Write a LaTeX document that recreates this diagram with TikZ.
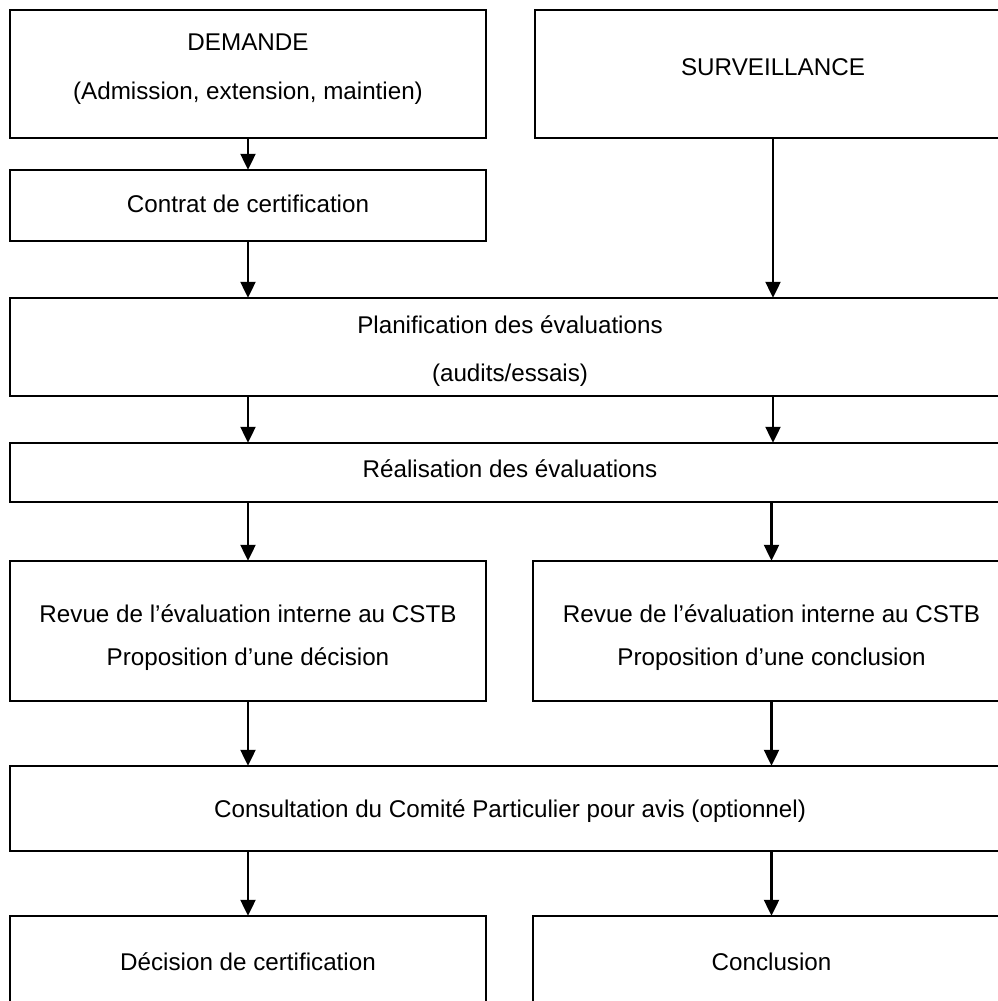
\documentclass[tikz,border=0pt]{standalone}
\usepackage{fontspec}
\setmainfont{Liberation Sans}
\usetikzlibrary{arrows.meta}
\begin{document}
\begin{tikzpicture}[x=1pt,y=-1pt,
  thickbox/.style={draw=black,line width=2pt,fill=none},
  thinbox/.style={draw=black,line width=1.3pt,fill=none},
  txt/.style={anchor=base,inner sep=0pt,font=\fontsize{24.2}{28}\selectfont},
  flow/.style={line width=2.2pt,-{Triangle[width=15pt,length=16pt]}}]
\useasboundingbox (0,0) rectangle (998,1001);
\clip (0,0) rectangle (998,1001);
\fill[white] (0,0) rectangle (998,1001);
% boxes
\draw[thickbox] (10,10) rectangle (486,138);
\node[inner sep=0pt,minimum width=476pt,minimum height=128pt] (dem) at (248,74) {};
\node[inner sep=0pt,minimum width=476pt,minimum height=128pt] (surv) at (773,74) {};
\draw[thickbox] (535,10) rectangle (1011,138);
\node[inner sep=0pt,minimum width=476pt,minimum height=71pt] (contrat) at (248,205.5) {};
\draw[thinbox] (10,170) rectangle (486,241);
\node[inner sep=0pt,minimum width=1000pt,minimum height=98pt] (plan) at (510,347) {};
\draw[thickbox] (10,298) rectangle (1010,396);
\node[inner sep=0pt,minimum width=1000pt,minimum height=59pt] (real) at (510,472.5) {};
\draw[thickbox] (10,443) rectangle (1010,502);
\node[inner sep=0pt,minimum width=476pt,minimum height=140pt] (revL) at (248,631) {};
\draw[thinbox] (10,561) rectangle (486,701);
\node[inner sep=0pt,minimum width=477pt,minimum height=140pt] (revR) at (771.5,631) {};
\draw[thinbox] (533,561) rectangle (1010,701);
\node[inner sep=0pt,minimum width=1000pt,minimum height=85pt] (cons) at (510,808.5) {};
\draw[thickbox] (10,766) rectangle (1010,851);
\node[inner sep=0pt,minimum width=476pt,minimum height=94pt] (dec) at (248,963) {};
\draw[thinbox] (10,916) rectangle (486,1010);
\node[inner sep=0pt,minimum width=477pt,minimum height=94pt] (concl) at (771.5,963) {};
\draw[thinbox] (533,916) rectangle (1010,1010);
% texts
\node[txt] at (248,50.7) {DEMANDE};
\node[txt] at (248,99.3) {(Admission, extension, maintien)};
\node[txt] at (773,75.7) {SURVEILLANCE};
\node[txt] at (248,212.7) {Contrat de certification};
\node[txt] at (510,333.3) {Planification des évaluations};
\node[txt] at (510,381.7) {(audits/essais)};
\node[txt] at (510,477.3) {Réalisation des évaluations};
\node[txt] at (248,622.7) {Revue de l’évaluation interne au CSTB};
\node[txt] at (248,665) {Proposition d’une décision};
\node[txt] at (771.5,622.7) {Revue de l’évaluation interne au CSTB};
\node[txt] at (771.5,665) {Proposition d’une conclusion};
\node[txt] at (510,817.3) {Consultation du Comité Particulier pour avis (optionnel)};
\node[txt] at (248,970) {Décision de certification};
\node[txt] at (771.5,970) {Conclusion};
% connectors
\draw[flow] (dem.south) -- (contrat.north);
\draw[flow] (contrat.south) -- (contrat.south |- plan.north);
\draw[flow] (surv.south) -- (surv.south |- plan.north);
\draw[flow] (plan.south -| dem.south) -- (real.north -| dem.south);
\draw[flow] (plan.south -| surv.south) -- (real.north -| surv.south);
\draw[flow] (real.south -| revL.north) -- (revL.north);
\draw[flow] (real.south -| revR.north) -- (revR.north);
\draw[flow] (revL.south) -- (revL.south |- cons.north);
\draw[flow] (revR.south) -- (revR.south |- cons.north);
\draw[flow] (cons.south -| dec.north) -- (dec.north);
\draw[flow] (cons.south -| concl.north) -- (concl.north);
\end{tikzpicture}
\end{document}
